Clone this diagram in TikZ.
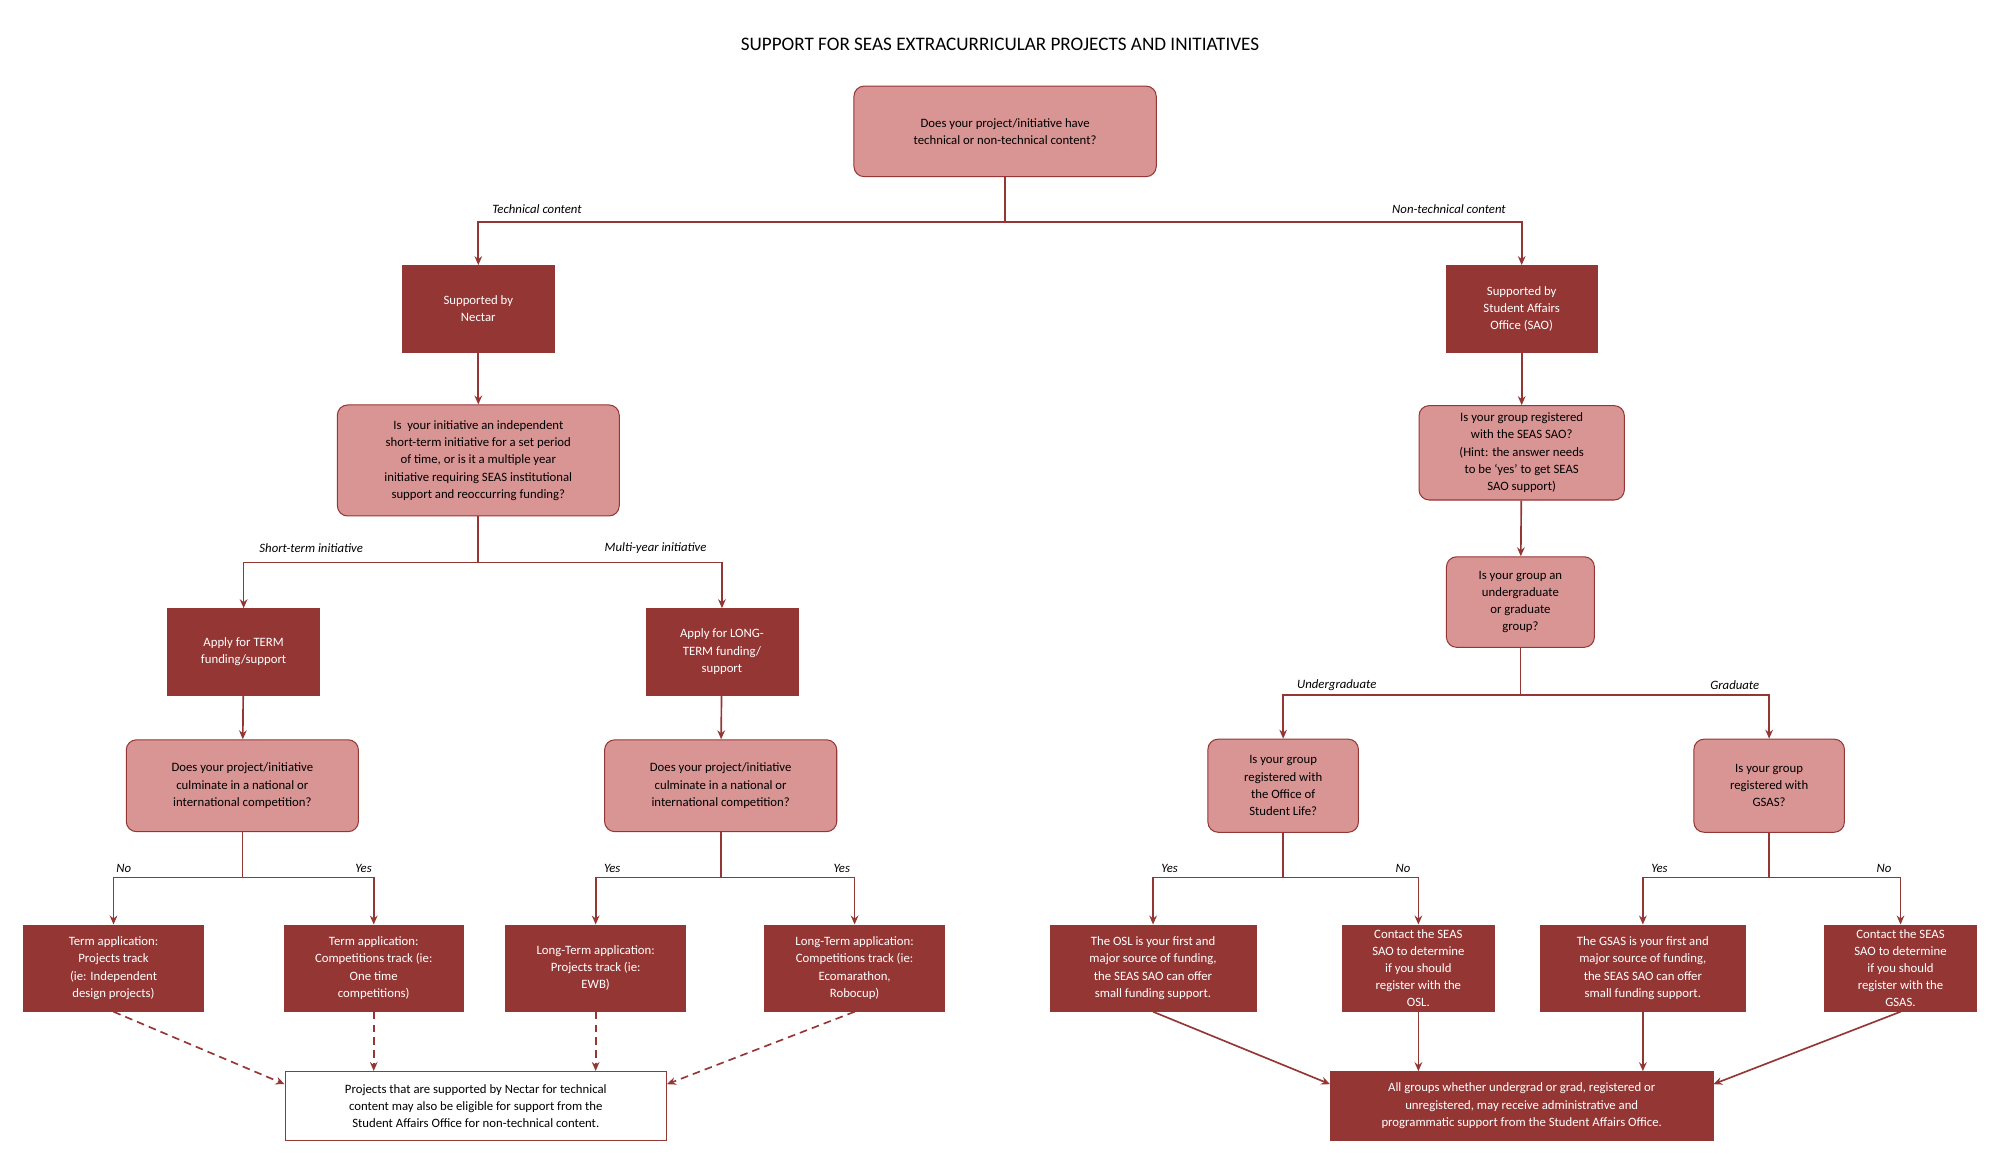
\documentclass[tikz,border=0pt]{standalone}
\usepackage{fontspec}
\setmainfont{Carlito}
\usetikzlibrary{arrows.meta}
\definecolor{dk}{HTML}{943634}
\definecolor{pk}{HTML}{D99594}
\begin{document}
\begin{tikzpicture}[x=1pt,y=-1pt,
  base/.style={align=center,font=\fontsize{10}{13.5}\selectfont,inner sep=2pt},
  dark/.style={base,fill=dk,draw=dk,text=white},
  pinkq/.style={base,fill=pk,draw=dk,rounded corners=8pt,line width=0.8pt},
  arr/.style={draw=dk,line width=1.3pt,-{Stealth[length=7pt,width=6pt]}},
  dsh/.style={arr,dashed,dash pattern=on 6pt off 4pt},
  lab/.style={font=\fontsize{10}{12}\selectfont\itshape}]
\useasboundingbox (0,0) rectangle (1568,921);
\node[font=\fontsize{15}{18}\selectfont] (title) at (784,35) {SUPPORT FOR SEAS EXTRACURRICULAR PROJECTS AND INITIATIVES};
\node[pinkq,minimum width=237,minimum height=71] (q1) at (788,103) {Does your project/initiative have\\technical or non-technical content?};
\node[dark,minimum width=119,minimum height=68] (nec) at (375,242) {Supported by\\Nectar};
\node[dark,minimum width=119,minimum height=68] (sao) at (1193,242) {Supported by\\Student Affairs\\Office (SAO)};
\node[pinkq,minimum width=221,minimum height=87] (q2) at (375,361) {Is \ your initiative an independent\\short-term initiative for a set period\\of time, or is it a multiple year\\initiative requiring SEAS institutional\\support and reoccurring funding?};
\node[pinkq,minimum width=161,minimum height=74] (q3) at (1193,355) {Is your group registered\\with the SEAS SAO?\\(Hint: the answer needs\\to be ‘yes’ to get SEAS\\SAO support)};
\node[pinkq,minimum width=116,minimum height=71] (q4) at (1192,472) {Is your group an\\undergraduate\\or graduate\\group?};
\node[dark,minimum width=119,minimum height=68] (term) at (191,511) {Apply for TERM\\funding/support};
\node[dark,minimum width=119,minimum height=68] (long) at (566,511) {Apply for LONG-\\TERM funding/\\support};
\node[pinkq,minimum width=182,minimum height=72] (q5) at (190,616) {Does your project/initiative\\culminate in a national or\\international competition?};
\node[pinkq,minimum width=182,minimum height=72] (q6) at (565,616) {Does your project/initiative\\culminate in a national or\\international competition?};
\node[pinkq,minimum width=118,minimum height=73] (q7) at (1006,616) {Is your group\\registered with\\the Office of\\Student Life?};
\node[pinkq,minimum width=118,minimum height=73] (q8) at (1387,616) {Is your group\\registered with\\GSAS?};
\node[dark,minimum width=141,minimum height=68] (b1) at (89,759) {Term application:\\Projects track\\(ie: Independent\\design projects)};
\node[dark,minimum width=141,minimum height=68] (b2) at (293,759) {Term application:\\Competitions track (ie:\\One time\\competitions)};
\node[dark,minimum width=141,minimum height=68] (b3) at (467,759) {Long-Term application:\\Projects track (ie:\\EWB)};
\node[dark,minimum width=141,minimum height=68] (b4) at (670,759) {Long-Term application:\\Competitions track (ie:\\Ecomarathon,\\Robocup)};
\node[dark,minimum width=161,minimum height=68] (b5) at (904,759) {The OSL is your first and\\major source of funding,\\the SEAS SAO can offer\\small funding support.};
\node[dark,minimum width=119,minimum height=68] (b6) at (1112,759) {Contact the SEAS\\SAO to determine\\if you should\\register with the\\OSL.};
\node[dark,minimum width=161,minimum height=68] (b7) at (1288,759) {The GSAS is your first and\\major source of funding,\\the SEAS SAO can offer\\small funding support.};
\node[dark,minimum width=119,minimum height=68] (b8) at (1490,759) {Contact the SEAS\\SAO to determine\\if you should\\register with the\\GSAS.};
\node[base,draw=dk,line width=0.8pt,fill=white,minimum width=299,minimum height=54] (fl) at (373,867) {Projects that are supported by Nectar for technical\\content may also be eligible for support from the\\Student Affairs Office for non-technical content.};
\node[dark,minimum width=300,minimum height=54] (fr) at (1193,867) {All groups whether undergrad or grad, registered or\\unregistered, may receive administrative and\\programmatic support from the Student Affairs Office.};
% connectors
\draw[arr] (q1.south) -- (q1.south |- 0,174) -| (nec.north);
\draw[arr] (q1.south) -- (q1.south |- 0,174) -| (sao.north);
\node[lab] at (421,164) {Technical content};
\node[lab] at (1136,164) {Non-technical content};
\draw[arr] (nec) -- (q2);
\draw[arr] (sao) -- (q3);
\draw[arr] (q3) -- (q4);
\draw[arr] (q2.south) -- (q2.south |- 0,441) -| (term.north);
\draw[arr] (q2.south) -- (q2.south |- 0,441) -| (long.north);
\node[lab] at (244,430) {Short-term initiative};
\node[lab] at (514,430) {Multi-year initiative};
\draw[arr] (term) -- (q5);
\draw[arr] (long) -- (q6);
\draw[arr] (q4.south) -- (q4.south |- 0,545) -| (q7.north);
\draw[arr] (q4.south) -- (q4.south |- 0,545) -| (q8.north);
\node[lab] at (1048,537) {Undergraduate};
\node[lab] at (1360,537) {Graduate};
\draw[arr] (q5.south) -- (q5.south |- 0,688) -| (b1.north);
\draw[arr] (q5.south) -- (q5.south |- 0,688) -| (b2.north);
\draw[arr] (q6.south) -- (q6.south |- 0,688) -| (b3.north);
\draw[arr] (q6.south) -- (q6.south |- 0,688) -| (b4.north);
\draw[arr] (q7.south) -- (q7.south |- 0,688) -| (b5.north);
\draw[arr] (q7.south) -- (q7.south |- 0,688) -| (b6.north);
\draw[arr] (q8.south) -- (q8.south |- 0,688) -| (b7.north);
\draw[arr] (q8.south) -- (q8.south |- 0,688) -| (b8.north);
\node[lab] at (97,681) {No};
\node[lab] at (285,681) {Yes};
\node[lab] at (480,681) {Yes};
\node[lab] at (660,681) {Yes};
\node[lab] at (917,681) {Yes};
\node[lab] at (1100,681) {No};
\node[lab] at (1301,681) {Yes};
\node[lab] at (1477,681) {No};
\draw[dsh] (b1.south) -- (fl.north west |- 0,850);
\draw[dsh] (b2.south) -- (b2.south |- fl.north);
\draw[dsh] (b3.south) -- (b3.south |- fl.north);
\draw[dsh] (b4.south) -- (fl.north east |- 0,850);
\draw[arr] (b5.south) -- (fr.north west |- 0,850);
\draw[arr] (b6.south) -- (b6.south |- fr.north);
\draw[arr] (b7.south) -- (b7.south |- fr.north);
\draw[arr] (b8.south) -- (fr.north east |- 0,850);
\end{tikzpicture}
\end{document}
